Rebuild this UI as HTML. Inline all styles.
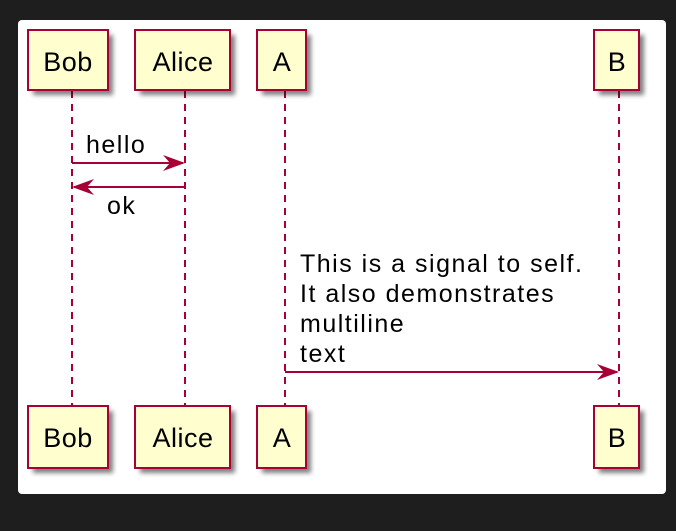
<!DOCTYPE html>
<html><head><style>
body{margin:0;background:#1e1e1e;width:676px;height:526px;overflow:hidden}
</style></head><body>
<svg width="676" height="526" xmlns="http://www.w3.org/2000/svg" font-family="Liberation Sans, sans-serif">
<defs><filter id="s" x="-20%" y="-20%" width="160%" height="160%"><feGaussianBlur stdDeviation="2.5"/></filter></defs>
<rect x="18" y="20" width="648" height="474" rx="4" fill="#fff"/>
<g stroke="#a80036" stroke-width="2" stroke-dasharray="7,6">
<line x1="72" y1="91" x2="72" y2="406"/>
<line x1="185" y1="91" x2="185" y2="406"/>
<line x1="285" y1="91" x2="285" y2="406"/>
<line x1="619" y1="91" x2="619" y2="406"/>
</g>
<g fill="#000" opacity="0.5" filter="url(#s)">
<rect x="33" y="35" width="80" height="60"/><rect x="140" y="35" width="95" height="60"/><rect x="262" y="35" width="49" height="60"/><rect x="599" y="35" width="45" height="60"/>
<rect x="33" y="411" width="80" height="62"/><rect x="140" y="411" width="95" height="62"/><rect x="262" y="411" width="49" height="62"/><rect x="599" y="411" width="45" height="62"/>
</g>
<g fill="#fefece" stroke="#a80036" stroke-width="2">
<rect x="28" y="30" width="80" height="60"/><rect x="135" y="30" width="95" height="60"/><rect x="257" y="30" width="49" height="60"/><rect x="594" y="30" width="45" height="60"/>
<rect x="28" y="406" width="80" height="62"/><rect x="135" y="406" width="95" height="62"/><rect x="257" y="406" width="49" height="62"/><rect x="594" y="406" width="45" height="62"/>
</g>
<g font-size="27" letter-spacing="0.5" text-anchor="middle" fill="#000">
<text x="68" y="71">Bob</text><text x="183" y="71">Alice</text><text x="282" y="71">A</text><text x="617" y="71">B</text>
<text x="68" y="447">Bob</text><text x="183" y="447">Alice</text><text x="282" y="447">A</text><text x="617" y="447">B</text>
</g>
<g stroke="#a80036" stroke-width="2" fill="#a80036">
<line x1="72" y1="163" x2="183" y2="163"/><path d="M185 163 L163 155 L170 163 L163 171Z" stroke="none"/>
<line x1="74" y1="187" x2="185" y2="187"/><path d="M72 187 L94 179 L87 187 L94 195Z" stroke="none"/>
<line x1="285" y1="372" x2="617" y2="372"/><path d="M619 372 L597 364 L604 372 L597 380Z" stroke="none"/>
</g>
<g font-size="25" letter-spacing="1.5" fill="#000">
<text x="86" y="153">hello</text>
<text x="107" y="214">ok</text>
<text x="300" y="272">This is a signal to self.</text>
<text x="300" y="302">It also demonstrates</text>
<text x="300" y="332">multiline</text>
<text x="300" y="362">text</text>
</g>
</svg>
</body></html>
